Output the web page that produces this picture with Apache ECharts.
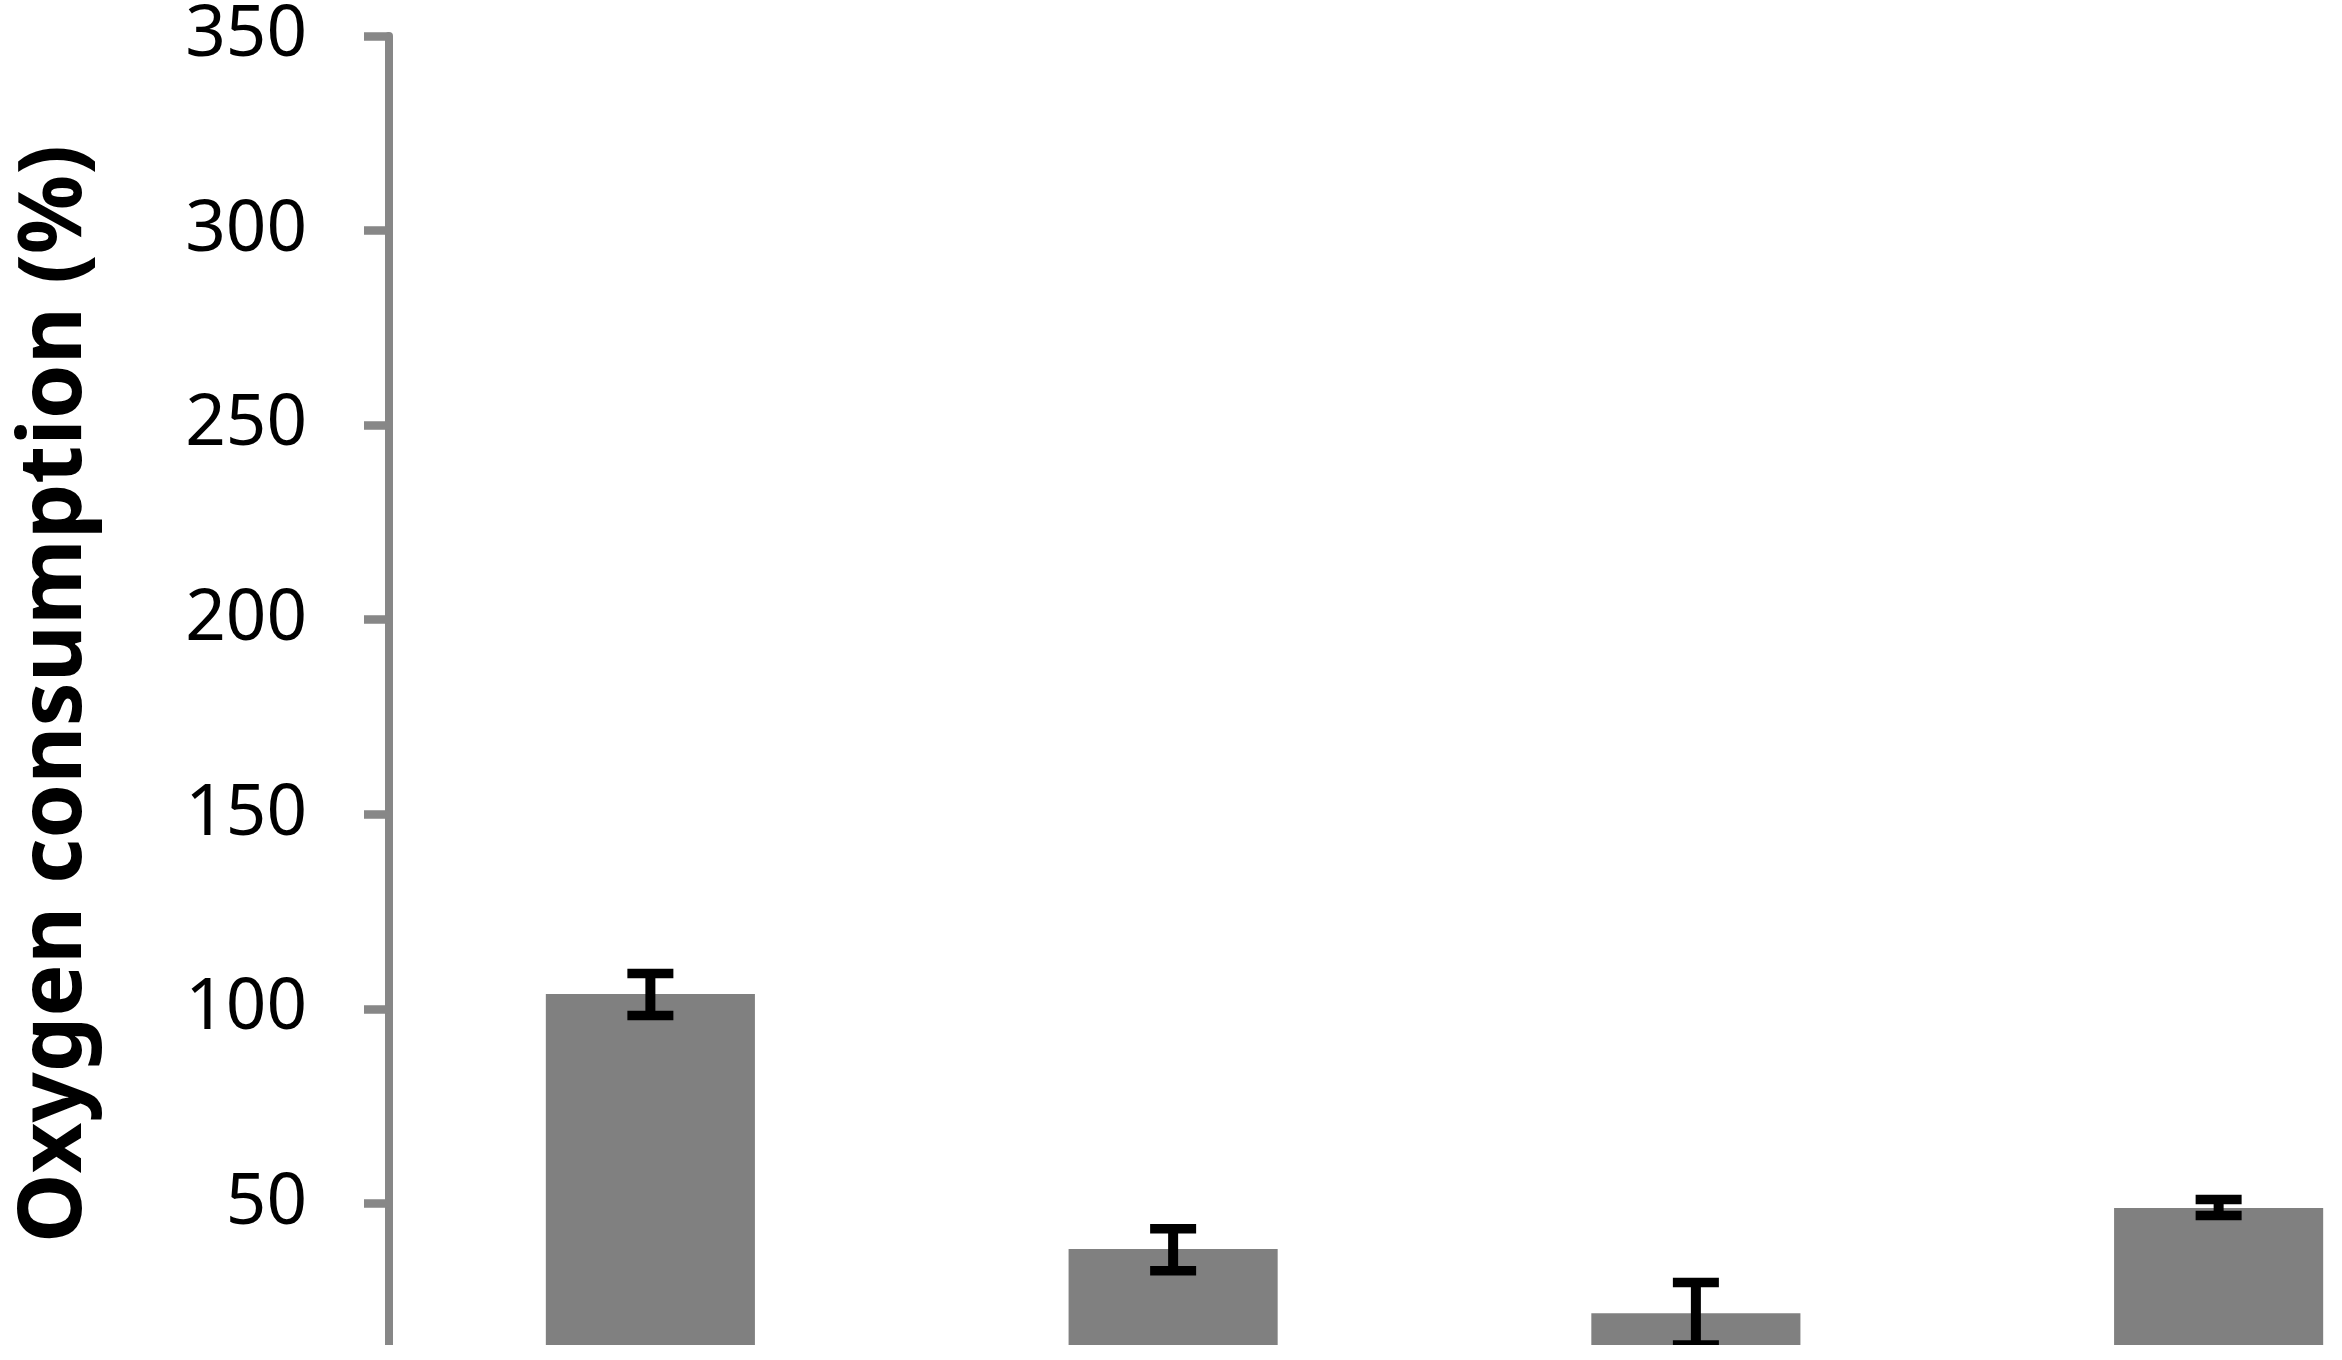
<!DOCTYPE html>
<html>
<head>
<meta charset="utf-8">
<script src="https://cdn.jsdelivr.net/npm/echarts@6/dist/echarts.min.js"></script>
<style>
html,body{margin:0;padding:0;background:#fff;}
#chart{width:2342px;height:1345px;}
</style>
</head>
<body>
<div id="chart"></div>
<script>
const categories = ['A', 'B', 'C', 'D'];
const means = [103.8, 38.3, 21.8, 48.8];
const errUpper = [109.1, 43.5, 29.7, 51.0];
const errLower = [98.3, 32.7, 13.6, 46.9];
const yTicks = [0, 50, 100, 150, 200, 250, 300, 350];
const yTitle = 'Oxygen consumption (%)';

const errData = categories.map((c, i) => [i, errLower[i], errUpper[i]]);

const chart = echarts.init(document.getElementById('chart'), null, {renderer: 'canvas'});
chart.setOption({
  animation: false,
  backgroundColor: '#fff',
  grid: {left: 389, top: 36, width: 2091, height: 1362, containLabel: false, outerBoundsMode: 'none'},
  xAxis: {
    type: 'category',
    data: categories,
    axisLine: {show: false},
    axisTick: {show: false},
    axisLabel: {show: false}
  },
  yAxis: {
    type: 'value',
    min: yTicks[0],
    max: yTicks[yTicks.length - 1],
    interval: 50,
    splitLine: {show: false},
    axisLine: {show: true, lineStyle: {color: '#878787', width: 8}},
    axisTick: {show: true, length: 25, lineStyle: {color: '#878787', width: 8.5}},
    axisLabel: {margin: 82, color: '#000', fontSize: 71, fontFamily: 'Noto Sans'}
  },
  graphic: [{
    type: 'text',
    x: 56, y: 694,
    rotation: Math.PI / 2,
    style: {
      text: yTitle,
      fill: '#000',
      font: 'bold 88px "Noto Sans"',
      align: 'center',
      verticalAlign: 'middle'
    }
  }],
  series: [{
    type: 'bar',
    data: means,
    barWidth: '40%',
    itemStyle: {color: '#808080'}
  }, {
    type: 'custom',
    data: errData,
    clip: false,
    z: 10,
    renderItem: function (params, api) {
      const x = api.value(0);
      const lo = api.coord([x, api.value(1)]);
      const hi = api.coord([x, api.value(2)]);
      const half = 23;
      const st = {stroke: '#000', lineWidth: 9.5, lineCap: 'butt'};
      return {
        type: 'group',
        children: [
          {type: 'line', shape: {x1: hi[0], y1: hi[1], x2: lo[0], y2: lo[1]}, style: Object.assign({}, st, {lineWidth: 10})},
          {type: 'line', shape: {x1: hi[0] - half, y1: hi[1], x2: hi[0] + half, y2: hi[1]}, style: st},
          {type: 'line', shape: {x1: lo[0] - half, y1: lo[1], x2: lo[0] + half, y2: lo[1]}, style: st}
        ]
      };
    }
  }]
});
</script>
</body>
</html>
